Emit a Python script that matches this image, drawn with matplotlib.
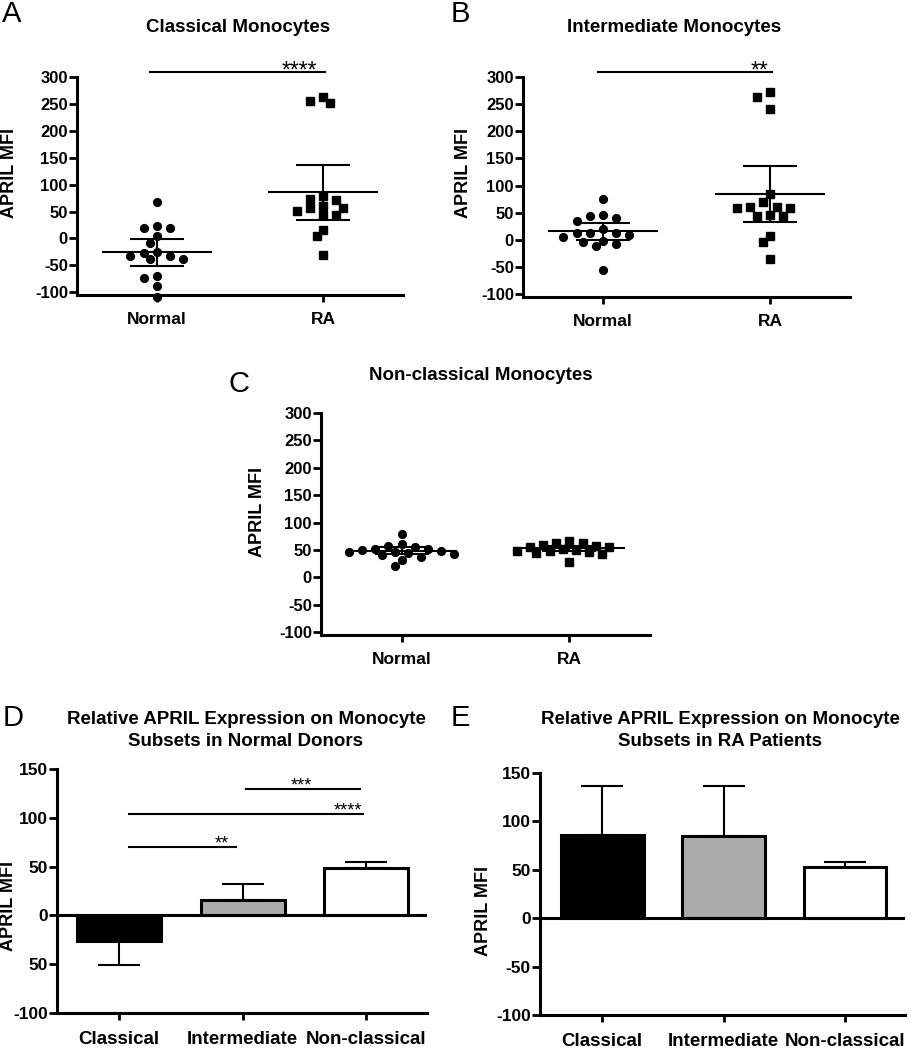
"""
APRIL MFI on monocyte subsets: scatter panels (A-C) and bar panels (D-E)
"""

import matplotlib

matplotlib.use("Agg")  # Use non-interactive backend
import matplotlib.pyplot as plt
import numpy as np

plt.rcParams["font.family"] = ["Liberation Sans", "DejaVu Sans"]
plt.rcParams["font.weight"] = "bold"
plt.rcParams["axes.unicode_minus"] = False

# Data
groups = ["Normal", "RA"]
subsets = ["Classical", "Intermediate", "Non-classical"]

normal_classical = [67, 23, 19, 20, 4, -9, -27, -32, -39, -38, -32, -26, -69, -73, -88, -108]
ra_classical = [262, 251, 256, 74, 72, 79, 57, 51, 44, 44, 56, 61, 15, 4, -30]
normal_intermediate = [76, 44, 46, 40, 34, 21, 12, 12, 12, 10, 6, -1, -3, -7, -12, -56]
ra_intermediate = [272, 263, 241, 84, 70, 60, 58, 46, 44, 45, 58, 60, 7, -4, -35]
normal_nonclassical = [80, 61, 58, 55, 52, 51, 50, 48, 47, 46, 44, 43, 41, 37, 32, 20]
ra_nonclassical = [67, 63, 62, 60, 58, 56, 55, 52, 50, 49, 48, 46, 44, 43, 29]

# mean and error bar per subset (Classical, Intermediate, Non-classical)
normal_means = [-26, 16, 49]
normal_errs = [25, 16, 6]
ra_means = [86, 85, 53]
ra_errs = [51, 52, 5]

bar_colors = ["#000000", "#ababab", "#ffffff"]
scatter_ticks = [-100, -50, 0, 50, 100, 150, 200, 250, 300]
bar_ticks = [-100, -50, 0, 50, 100, 150]
normal_bar_ticklabels = ["-100", "50", "0", "50", "100", "150"]  # as printed

FIG_W, FIG_H = 911, 1050
LW_AXIS = 2.2
LW_ERR = 1.5


def px_axes(fig, left, top, right, bottom):
    """Add axes from a pixel box (origin top-left)."""
    return fig.add_axes(
        [left / FIG_W, 1 - bottom / FIG_H, (right - left) / FIG_W, (bottom - top) / FIG_H]
    )


def fig_text(fig, x, y, s, **kw):
    fig.text(x / FIG_W, 1 - y / FIG_H, s, **kw)


def style_axes(ax, yticks, xticks, xlabels, ylabels=None, lab_size=12, x_size=12.5):
    for side in ("top", "right"):
        ax.spines[side].set_visible(False)
    for side in ("left", "bottom"):
        ax.spines[side].set_linewidth(LW_AXIS)
    ax.set_yticks(yticks)
    ax.set_yticklabels(ylabels if ylabels else [str(t) for t in yticks])
    ax.set_xticks(xticks)
    ax.set_xticklabels(xlabels)
    ax.tick_params(axis="y", direction="out", length=5.5, width=2, labelsize=lab_size, pad=1)
    ax.tick_params(axis="x", direction="out", length=5, width=2, labelsize=x_size, pad=7)
    for lab in ax.get_xticklabels() + ax.get_yticklabels():
        lab.set_fontweight("bold")


def swarm_x(ax, x0, values, diam=8.8, step=6.6):
    """Spread points sideways so they do not overlap (beeswarm)."""
    vals = np.asarray(values, dtype=float)
    pts = ax.transData.transform(np.column_stack([np.full(len(vals), x0), vals]))
    xc = pts[0, 0]
    ys = pts[:, 1]
    xs = np.zeros(len(vals))
    placed = []
    for i in np.argsort(-vals):
        for k in range(60):
            cands = [0] if k == 0 else [-k, k]
            hit = None
            for c in cands:
                cx = xc + c * step
                if all((cx - px) ** 2 + (ys[i] - py) ** 2 >= diam**2 for px, py in placed):
                    hit = cx
                    break
            if hit is not None:
                break
        xs[i] = hit
        placed.append((hit, ys[i]))
    back = ax.transData.inverted().transform(np.column_stack([xs, ys]))
    return back[:, 0]


def scatter_panel(fig, box, data, means, errs, title, title_xy, letter, letter_xy, ylab_xy, sig=None):
    ax = px_axes(fig, *box)
    ax.set_xlim(-0.48, 1.48)
    ax.set_ylim(-105, 300)
    style_axes(ax, scatter_ticks, [0, 1], groups)

    for i, (vals, marker) in enumerate(zip(data, ["o", "s"])):
        xs = swarm_x(ax, i, vals)
        ax.plot(xs, vals, linestyle="none", marker=marker, markersize=5.6,
                color="k", clip_on=False, zorder=3)
        ax.hlines(means[i], i - 0.33, i + 0.33, color="k", lw=LW_ERR, zorder=4)
        ax.errorbar([i], [means[i]], yerr=[errs[i]], fmt="none", ecolor="k",
                    elinewidth=LW_ERR, capsize=19.5, capthick=LW_ERR, zorder=4)

    if sig:
        x0, x1, y, tx, stars = sig
        ax.plot([x0, x1], [y, y], color="k", lw=LW_ERR, clip_on=False)
        ax.annotate(stars, (tx, y), xytext=(0, -4), textcoords="offset points",
                    ha="center", va="baseline", fontsize=16.5, fontweight="normal",
                    annotation_clip=False)

    fig_text(fig, *title_xy, title, ha="center", va="center", fontsize=13.5, fontweight="bold")
    fig_text(fig, *letter_xy, letter, ha="left", va="center", fontsize=21, fontweight="normal")
    fig_text(fig, *ylab_xy, "APRIL MFI", ha="center", va="center", rotation=90,
             fontsize=13, fontweight="bold")
    return ax


def bar_panel(fig, box, xlim, means, errs, title_lines, title_x, letter, letter_xy, ylab_xy, ylabels=None):
    ax = px_axes(fig, *box)
    ax.set_xlim(*xlim)
    ax.set_ylim(-100, 150)
    x = np.arange(len(subsets))
    style_axes(ax, bar_ticks, x, subsets, ylabels, lab_size=12.5, x_size=13.5)
    ax.tick_params(axis="x", pad=8)

    lower = [e if m < 0 else 0 for m, e in zip(means, errs)]
    upper = [0 if m < 0 else e for m, e in zip(means, errs)]
    ax.errorbar(x, means, yerr=[lower, upper], fmt="none", ecolor="k",
                elinewidth=LW_ERR, capsize=15, capthick=LW_ERR, zorder=2)
    ax.bar(x, means, width=0.68, color=bar_colors, edgecolor="k", linewidth=LW_AXIS, zorder=3)
    ax.axhline(0, color="k", lw=LW_AXIS, zorder=4)

    fig_text(fig, title_x, 720, title_lines[0], ha="center", va="center", fontsize=13.5, fontweight="bold")
    fig_text(fig, title_x, 741, title_lines[1], ha="center", va="center", fontsize=13.5, fontweight="bold")
    fig_text(fig, *letter_xy, letter, ha="left", va="center", fontsize=21, fontweight="normal")
    fig_text(fig, *ylab_xy, "APRIL MFI", ha="center", va="center", rotation=90,
             fontsize=13, fontweight="bold")
    return ax


fig = plt.figure(figsize=(FIG_W / 100, FIG_H / 100), dpi=100)

# A
scatter_panel(fig, (77, 77, 403, 295), [normal_classical, ra_classical],
              [normal_means[0], ra_means[0]], [normal_errs[0], ra_errs[0]],
              "Classical Monocytes", (238, 28), "A", (2, 14), (10, 173),
              sig=(-0.04, 1.01, 310, 0.857, "****"))

# B
scatter_panel(fig, (523, 77, 850, 297), [normal_intermediate, ra_intermediate],
              [normal_means[1], ra_means[1]], [normal_errs[1], ra_errs[1]],
              "Intermediate Monocytes", (674, 28), "B", (451, 14), (463, 173),
              sig=(-0.03, 1.01, 309, 0.935, "**"))

# C
scatter_panel(fig, (321, 413, 650, 635), [normal_nonclassical, ra_nonclassical],
              [normal_means[2], ra_means[2]], [normal_errs[2], ra_errs[2]],
              "Non-classical Monocytes", (481, 376), "C", (229, 384), (257, 512))

# D
axd = bar_panel(fig, (57, 769, 427, 1013), (-0.505, 2.495), normal_means, normal_errs,
                ["Relative APRIL Expression on Monocyte", "Subsets in Normal Donors"], 246,
                "D", (3, 718), (9, 906), ylabels=normal_bar_ticklabels)
for x0, x1, y, tx, stars in [(0.075, 0.95, 70, 0.83, "**"),
                             (0.075, 1.98, 104, 1.85, "****"),
                             (1.03, 1.95, 129, 1.48, "***")]:
    axd.plot([x0, x1], [y, y], color="k", lw=LW_ERR)
    axd.annotate(stars, (tx, y), xytext=(0, -1), textcoords="offset points",
                 ha="center", va="baseline", fontsize=13, fontweight="normal")

# E
bar_panel(fig, (540, 773, 905, 1015), (-0.513, 2.495), ra_means, ra_errs,
          ["Relative APRIL Expression on Monocyte", "Subsets in RA Patients"], 720,
          "E", (451, 718), (483, 911))

fig.savefig("out.png", dpi=100)
plt.close(fig)
